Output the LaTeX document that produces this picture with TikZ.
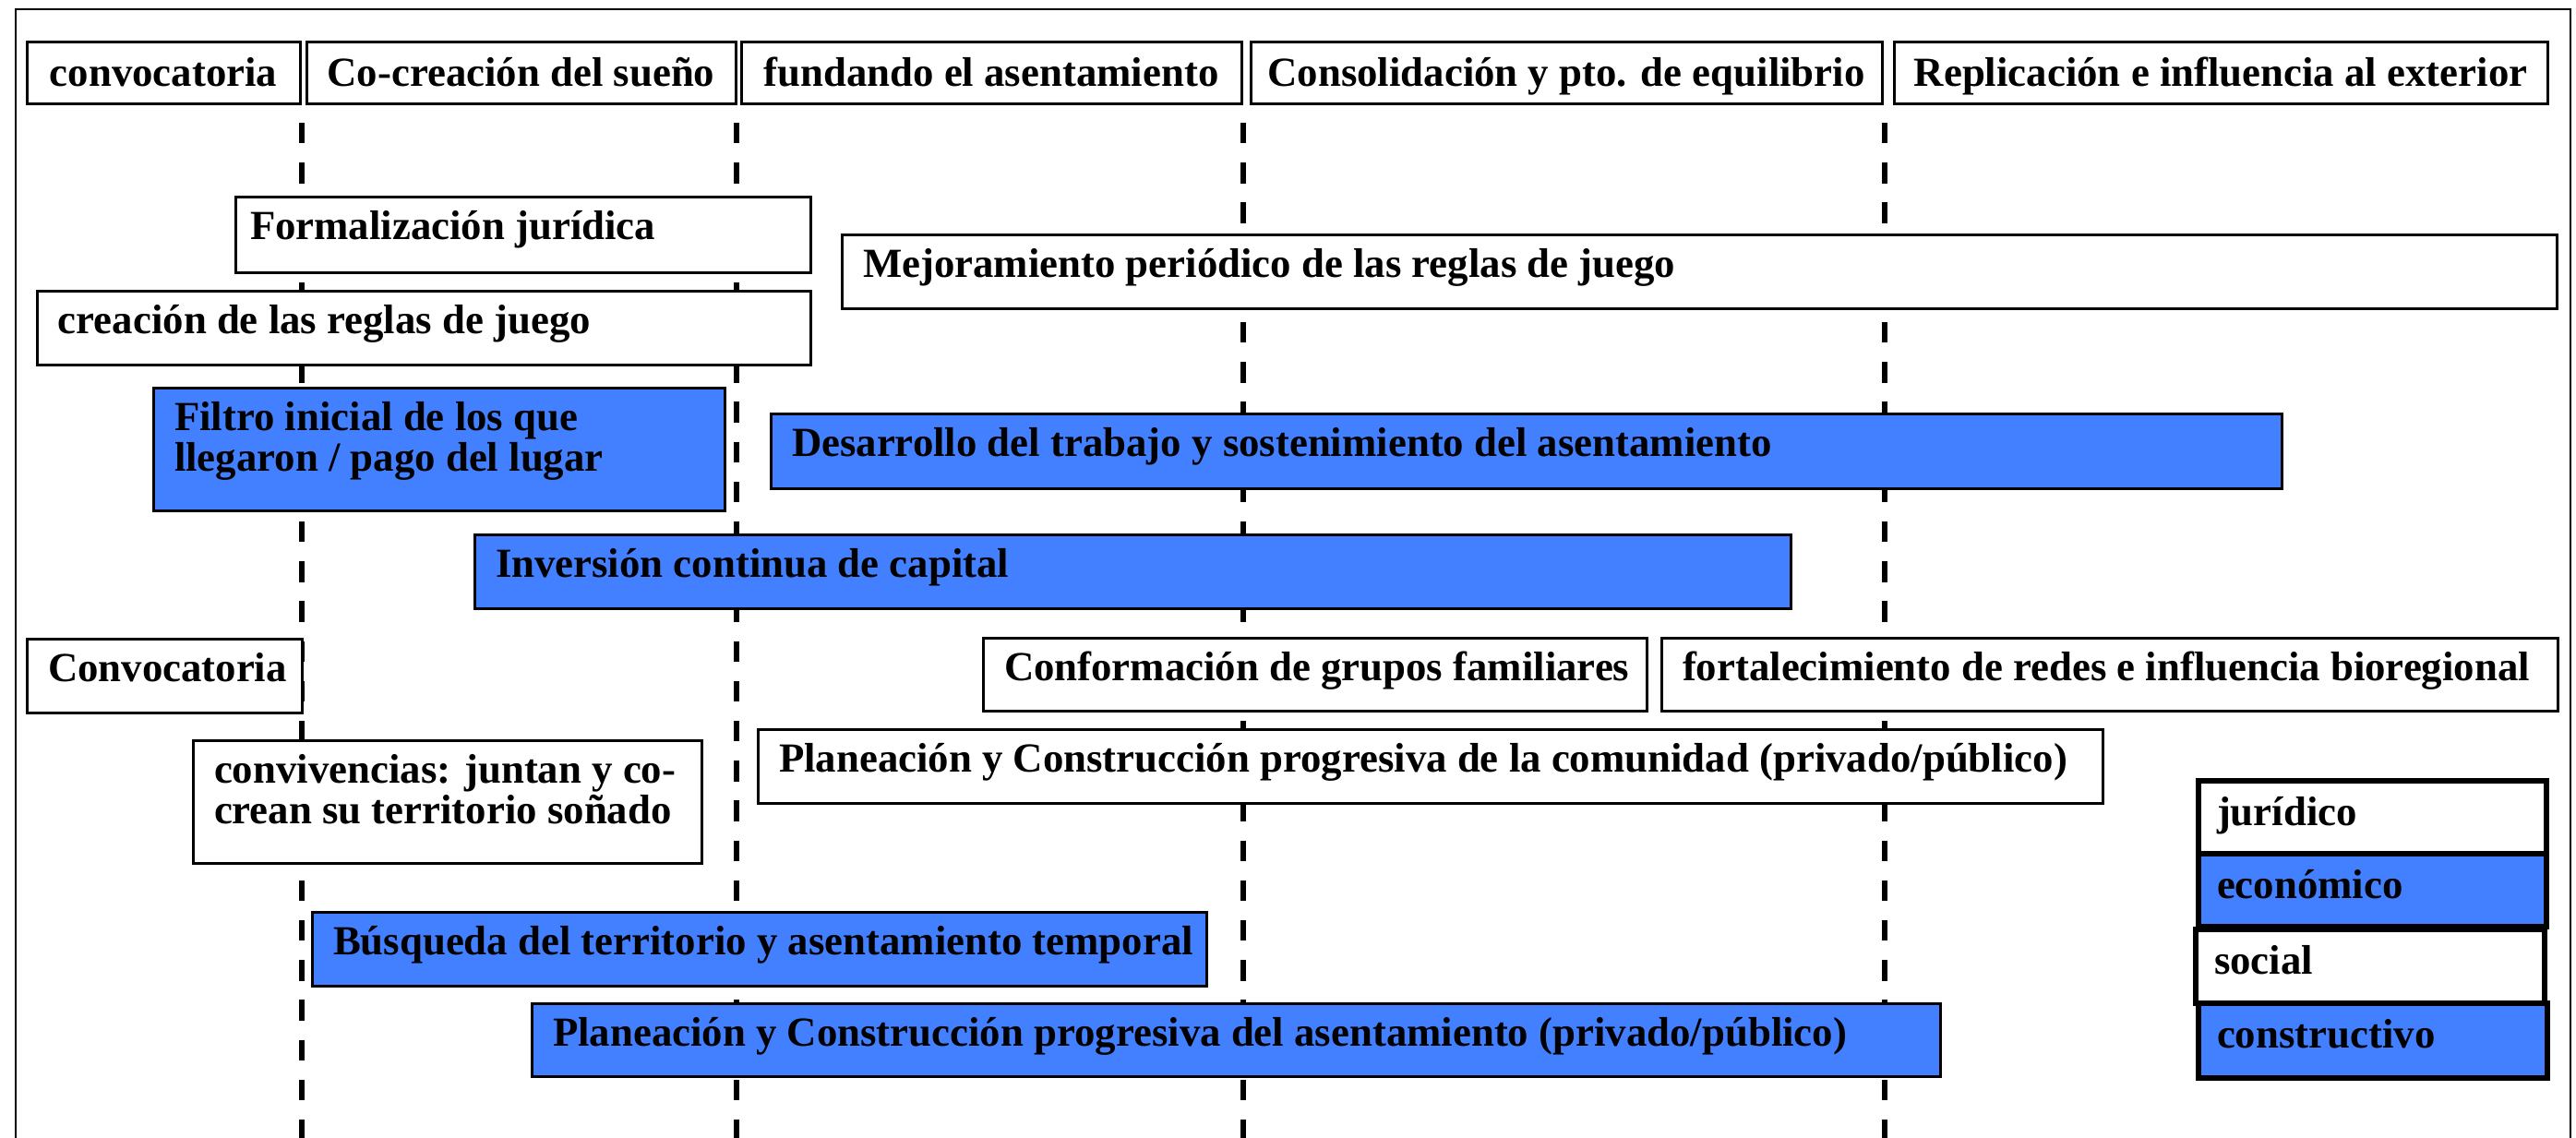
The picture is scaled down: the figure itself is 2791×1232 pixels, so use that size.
\documentclass[tikz,border=0pt]{standalone}
\usepackage{fontspec}
\setmainfont{Liberation Serif}
\usetikzlibrary{fit,calc}
\definecolor{blu}{RGB}{66,128,255}
\tikzset{
  box/.style={draw=black, line width=0.75pt, inner sep=0pt, outer sep=0pt},
  legbox/.style={box, line width=1.7pt},
  txt/.style={font=\fontsize{11.2}{10.8}\selectfont\bfseries, inner sep=0pt, outer sep=0pt, align=left},
  sepline/.style={line width=1.5pt, dash pattern=on 5.6pt off 5.2pt},
  framel/.style={line width=0.7pt},
}
% [pad]{name}{x1}{y1}{x2}{y2}{fill}{text}   (one line of text)
\newcommand\tb[8][23]{%
  \coordinate (#2-a) at (#3,#4);
  \coordinate (#2-b) at (#5,#6);
  \node[box, fill=#7, fit=(#2-a)(#2-b)] (#2) {};
  \node[txt, anchor=base west] (#2-t) at ($(#2.north west)+(#1,46)$) {#8};
}
% {name}{x1}{y1}{x2}{y2}{fill}{text}   (two lines of text)
\newcommand\tbtwo[7]{%
  \coordinate (#1-a) at (#2,#3);
  \coordinate (#1-b) at (#4,#5);
  \node[box, fill=#6, fit=(#1-a)(#1-b)] (#1) {};
  \node[txt, anchor=base west] (#1-t) at ($(#1.north west)+(23,90)$) {#7};
}
% {name}{x1}{x2}{text}
\newcommand\hb[4]{%
  \coordinate (#1-a) at (#2,45);
  \coordinate (#1-b) at (#3,112);
  \node[box, fill=white, fit=(#1-a)(#1-b)] (#1) {};
  \node[txt, anchor=base] (#1-t) at ($(#1.north)+(0,48)$) {#4};
}
% {name}{x1}{y1}{x2}{y2}{fill}{text}
\newcommand\lb[7]{%
  \coordinate (#1-a) at (#2,#3);
  \coordinate (#1-b) at (#4,#5);
  \node[legbox, fill=#6, fit=(#1-a)(#1-b)] (#1) {};
  \node[txt, anchor=base west] (#1-t) at ($(#1.north west)+(20,48)$) {#7};
}
\begin{document}
\begin{tikzpicture}[x=0.25pt, y=-0.25pt]
\useasboundingbox (0,0) rectangle (2791,1232);
\clip (0,0) rectangle (2791,1232);
\fill[white] (0,0) rectangle (2791,1232);

% outer frame (open at the bottom)
\coordinate (fbl) at (17,1240);
\coordinate (ftl) at (17,10);
\coordinate (ftr) at (2785,10);
\coordinate (fbr) at (2785,1240);
\draw[framel] (fbl) -- (ftl) -- (ftr) -- (fbr);

% header
\hb{h1}{29}{325}{convocatoria}
\hb{h2}{332}{797}{Co-creación del sueño}
\hb{h3}{803}{1345}{fundando el asentamiento}
\hb{h4}{1355}{2039}{Consolidación y pto. de equilibrio}
\hb{h5}{2052}{2760}{Replicación e influencia al exterior}

% phase separators
\coordinate (bot) at (0,1240);
\draw[sepline] ([xshift=0.4pt,yshift=-5.25pt]h1.south east) -- ([xshift=0.4pt]h1.south east |- bot);
\draw[sepline] ([xshift=0.2pt,yshift=-5.25pt]h2.south east) -- ([xshift=0.2pt]h2.south east |- bot);
\draw[sepline] ([xshift=0.4pt,yshift=-5.25pt]h3.south east) -- ([xshift=0.4pt]h3.south east |- bot);
\draw[sepline] ([xshift=0.7pt,yshift=-5.25pt]h4.south east) -- ([xshift=0.7pt]h4.south east |- bot);

% activity boxes
\tb[16]{formal}{255}{213}{878}{295}{white}{Formalización jurídica}
\tb{mejor}{912}{254}{2770}{334}{white}{Mejoramiento periódico de las reglas de juego}
\tb{creac}{40}{315}{878}{395}{white}{creación de las reglas de juego}
\tbtwo{filtro}{166}{420}{785}{553}{blu}{Filtro inicial de los que\\llegaron / pago del lugar}
\tb{desarr}{835}{448}{2472}{529}{blu}{Desarrollo del trabajo y sostenimiento del asentamiento}
\tb{invers}{514}{579}{1940}{659}{blu}{Inversión continua de capital}
\tb{convoc}{29}{692}{327}{772}{white}{Convocatoria}
\tb{conform}{1065}{691}{1784}{770}{white}{Conformación de grupos familiares}
\tb{fortal}{1800}{691}{2771}{770}{white}{fortalecimiento de redes e influencia bioregional}
\tbtwo{conviv}{209}{802}{760}{935}{white}{convivencias: juntan y co-\\crean su territorio soñado}
\tb{placom}{821}{790}{2278}{870}{white}{Planeación y Construcción progresiva de la comunidad (privado/público)}
\tb{busq}{338}{988}{1307}{1068}{blu}{Búsqueda del territorio y asentamiento temporal}
\tb{plasen}{576}{1087}{2102}{1166}{blu}{Planeación y Construcción progresiva del asentamiento (privado/público)}

% legend
\lb{ljur}{2382}{846}{2759}{925}{white}{jurídico}
\lb{leco}{2382}{925}{2759}{1004}{blu}{económico}
\lb{lsoc}{2379}{1007}{2757}{1087}{white}{social}
\lb{lcon}{2382}{1087}{2760}{1168}{blu}{constructivo}
\end{tikzpicture}
\end{document}
